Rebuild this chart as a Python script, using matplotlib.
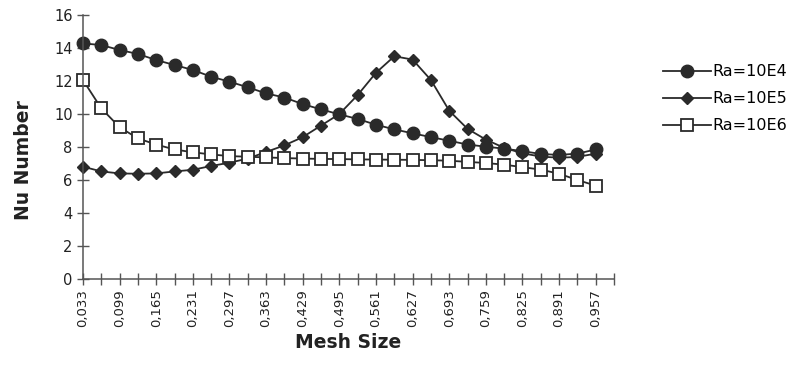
import numpy as np
import matplotlib.pyplot as plt

# Nusselt number versus mesh size for three Rayleigh numbers
mesh = ["0,033", "0,066", "0,099", "0,132", "0,165", "0,198", "0,231", "0,264",
        "0,297", "0,330", "0,363", "0,396", "0,429", "0,462", "0,495", "0,528",
        "0,561", "0,594", "0,627", "0,660", "0,693", "0,726", "0,759", "0,792",
        "0,825", "0,858", "0,891", "0,924", "0,957"]

nu_ra4 = [14.28, 14.18, 13.88, 13.64, 13.27, 12.97, 12.67, 12.26, 11.96, 11.62,
          11.25, 11.00, 10.60, 10.28, 9.98, 9.70, 9.35, 9.07, 8.83, 8.60,
          8.38, 8.15, 8.02, 7.90, 7.75, 7.58, 7.52, 7.60, 7.85]
nu_ra5 = [6.81, 6.52, 6.40, 6.38, 6.40, 6.52, 6.62, 6.85, 7.05, 7.30,
          7.70, 8.10, 8.60, 9.30, 10.00, 11.15, 12.50, 13.50, 13.30, 12.06,
          10.20, 9.10, 8.45, 7.95, 7.62, 7.42, 7.35, 7.40, 7.60]
nu_ra6 = [12.06, 10.34, 9.20, 8.52, 8.15, 7.85, 7.68, 7.55, 7.45, 7.41,
          7.37, 7.33, 7.30, 7.28, 7.27, 7.25, 7.24, 7.23, 7.22, 7.20,
          7.17, 7.10, 7.03, 6.93, 6.78, 6.63, 6.38, 6.00, 5.66]

labels = ["Ra=10E4", "Ra=10E5", "Ra=10E6"]

x = np.arange(len(mesh))
ink = "#2a2a2a"

fig = plt.figure(figsize=(8.01, 3.83), dpi=100)
ax = fig.add_axes([0.1036, 0.2715, 0.663, 0.6893])

l1, = ax.plot(x, nu_ra4, color=ink, lw=1.3, marker="o", ms=9,
              mfc=ink, mec=ink)
l2, = ax.plot(x, nu_ra5, color=ink, lw=1.3, marker="D", ms=6.5,
              mfc=ink, mec=ink)
l3, = ax.plot(x, nu_ra6, color=ink, lw=1.3, marker="s", ms=8,
              mfc="white", mec=ink, mew=1.3)

ax.set_xlim(0, len(mesh))
ax.set_ylim(0, 16)
ax.set_yticks(np.arange(0, 17, 2))
ax.set_xticks(np.arange(len(mesh) + 1))
ax.set_xticklabels([m if i % 2 == 0 else "" for i, m in enumerate(mesh)] + [""],
                   rotation=90, fontsize=9.5, color="#222")
ax.tick_params(axis="y", labelsize=10.5, labelcolor="#222")
ax.tick_params(direction="inout", length=8, width=1, color="#555")

for side in ["top", "right"]:
    ax.spines[side].set_visible(False)
for side in ["left", "bottom"]:
    ax.spines[side].set_color("#555")
    ax.spines[side].set_linewidth(1.1)
for ln in (l1, l2, l3):
    ln.set_clip_on(False)

ax.set_xlabel("Mesh Size", fontsize=13.5, fontweight="bold", color="#222")
ax.set_ylabel("Nu Number", fontsize=13.5, fontweight="bold", color="#222")
ax.yaxis.set_label_coords(-0.095, 0.45)

fig.legend([l1, l2, l3], labels, loc="upper left",
           bbox_to_anchor=(0.81, 0.87), frameon=False, fontsize=11.5,
           handlelength=3.0, handletextpad=0.1, labelspacing=0.75)

fig.savefig("out.png", dpi=100)
